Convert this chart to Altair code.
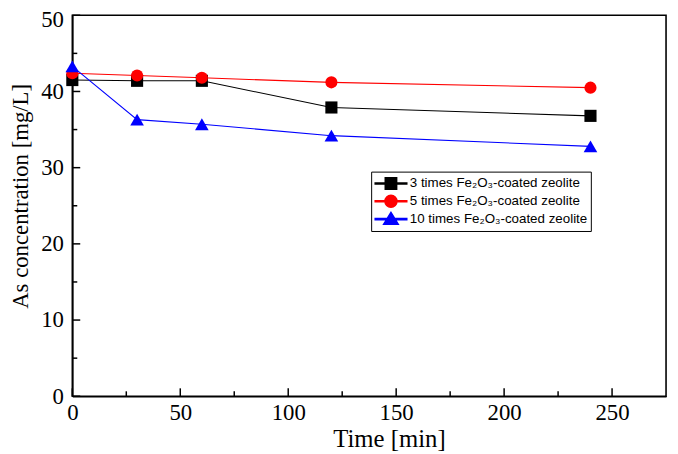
import altair as alt
import pandas as pd

# ---- data ----
times = [0, 30, 60, 120, 240]
series_names = [
    "3 times Fe\u2082O\u2083-coated zeolite",
    "5 times Fe\u2082O\u2083-coated zeolite",
    "10 times Fe\u2082O\u2083-coated zeolite",
]
vals_3 = [41.5, 41.4, 41.4, 37.9, 36.8]
vals_5 = [42.4, 42.1, 41.8, 41.2, 40.5]
vals_10 = [43.3, 36.3, 35.7, 34.2, 32.8]

x_major = [0, 50, 100, 150, 200, 250]
x_minor = [25, 75, 125, 175, 225]
y_major = [0, 10, 20, 30, 40, 50]
y_minor = [5, 15, 25, 35, 45]

colors = ["#000000", "#FF0000", "#0000FF"]
shapes = ["square", "circle", "triangle-up"]
# legend symbols: thin line segment plus marker
legend_paths = [
    "M-1,-0.035H1V0.035H-1Z M-0.36,-0.36H0.36V0.36H-0.36Z",
    "M-1,-0.035H1V0.035H-1Z M-0.38,0A0.38,0.38,0,1,1,0.38,0A0.38,0.38,0,1,1,-0.38,0Z",
    "M-1,-0.035H1V0.035H-1Z M0,-0.42L0.46,0.32H-0.46Z",
]

rows = []
for name, vals in zip(series_names, [vals_3, vals_5, vals_10]):
    for t, v in zip(times, vals):
        rows.append({"time": t, "conc": v, "series": name})
df = pd.DataFrame(rows)

W, H = 600, 385

xs = alt.Scale(domain=[0, 275], nice=False, zero=False)
ys = alt.Scale(domain=[0, 50], nice=False)
cs = alt.Scale(domain=series_names, range=colors)

x_enc = alt.X("time:Q", scale=xs,
              axis=alt.Axis(values=x_major, ticks=False, grid=False, title="Time [min]",
                            labelPadding=5, titlePadding=3, domainWidth=1.6,
                            domainColor="black", labelFlush=False,
                            titleFontSize=25, titleX=W / 2 + 20))
y_enc = alt.Y("conc:Q", scale=ys,
              axis=alt.Axis(values=y_major, ticks=False, grid=False,
                            title="As concentration [mg/L]", labelPadding=9,
                            titlePadding=8, domainWidth=1.6, domainColor="black",
                            labelFlush=False, titleFontSize=23, titleY=H / 2 - 10,
                            labelOffset=alt.condition("datum.value == 50",
                                                      alt.value(4), alt.value(0))))

base = alt.Chart(df)

lines = base.mark_line(strokeWidth=1.1).encode(
    x=x_enc, y=y_enc,
    color=alt.Color("series:N", scale=cs),
)

point_layers = []
for name, shp, sz in zip(series_names, shapes, [150, 150, 190]):
    point_layers.append(
        base.transform_filter(alt.datum.series == name).mark_point(
            filled=True, opacity=1, size=sz, shape=shp
        ).encode(
            x="time:Q", y="conc:Q",
            color=alt.Color("series:N", scale=cs),
        )
    )

leg = alt.Legend(title=None, orient="none", legendX=302, legendY=158,
                 symbolSize=1024, symbolOpacity=1, clipHeight=18,
                 labelFont="Liberation Sans", labelFontSize=13.5, labelLimit=0,
                 labelColor="black", labelOffset=2,
                 strokeColor="black", fillColor="white",
                 padding=3, rowPadding=0)

legend_layer = base.mark_point(filled=True, opacity=0, size=10).encode(
    x="time:Q", y="conc:Q",
    color=alt.Color("series:N", scale=cs, legend=leg),
    shape=alt.Shape("series:N", scale=alt.Scale(domain=series_names, range=legend_paths),
                    legend=leg),
)

xmaj = pd.DataFrame({"v": x_major})
xmin = pd.DataFrame({"v": x_minor})
ymaj = pd.DataFrame({"v": y_major})
ymin = pd.DataFrame({"v": y_minor})

tick_style = dict(color="black", strokeWidth=1.5)
xt_major = alt.Chart(xmaj).mark_rule(**tick_style).encode(
    x=alt.X("v:Q", scale=xs), y=alt.value(H), y2=alt.value(H - 8))
xt_minor = alt.Chart(xmin).mark_rule(**tick_style).encode(
    x=alt.X("v:Q", scale=xs), y=alt.value(H), y2=alt.value(H - 5))
yt_major = alt.Chart(ymaj).mark_rule(**tick_style).encode(
    y=alt.Y("v:Q", scale=ys), x=alt.value(0), x2=alt.value(8))
yt_minor = alt.Chart(ymin).mark_rule(**tick_style).encode(
    y=alt.Y("v:Q", scale=ys), x=alt.value(0), x2=alt.value(5))

chart = alt.layer(
    lines, *point_layers, legend_layer, xt_major, xt_minor, yt_major, yt_minor
).properties(
    width=W, height=H,
    background="white",
    autosize=alt.AutoSizeParams(type="none"),
    padding={"left": 65, "top": 5, "right": 4, "bottom": 56},
).configure_view(
    stroke="black", strokeWidth=1.6
).configure_axis(
    labelFont="Liberation Serif", titleFont="Liberation Serif",
    labelFontSize=23, titleFontSize=23, labelColor="black", titleColor="black",
    titleFontWeight="normal",
)

chart.save("out.html", embed_options={"renderer": "svg", "actions": False})
